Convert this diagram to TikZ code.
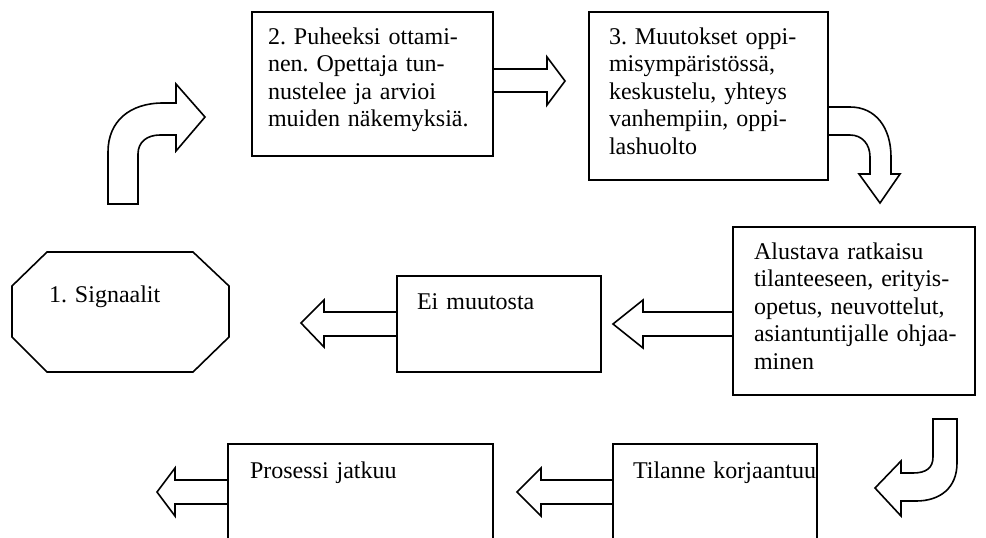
\documentclass[tikz,border=0pt]{standalone}
\usepackage{fontspec}
\setmainfont{Liberation Serif}
\frenchspacing
\begin{document}
\begin{tikzpicture}[x=0.5pt,y=-0.5pt,line width=0.8pt,
  box/.style={draw, rectangle, inner sep=0pt, outer sep=0pt, anchor=north west},
  txt/.style={anchor=base west, inner sep=0pt, outer sep=0pt, align=left, text width=150pt,
              font=\fontsize{12pt}{13.75pt}\selectfont},
  barrow/.style={draw, line join=miter, fill=white}]
\useasboundingbox (0,0) rectangle (986,537);
\clip (0,0) rectangle (986,537);

% boxes
\node[box, minimum width=241*0.5pt, minimum height=144*0.5pt] (b2) at (252,12) {};
\node[box, minimum width=239*0.5pt, minimum height=168*0.5pt] (b3) at (589,12) {};
\node[box, minimum width=204*0.5pt, minimum height=96*0.5pt] (bei) at (397,276) {};
\node[box, minimum width=242*0.5pt, minimum height=168*0.5pt] (balu) at (733,227) {};
\node[box, minimum width=204*0.5pt, minimum height=120*0.5pt] (btil) at (613,444) {};
\node[box, minimum width=265*0.5pt, minimum height=120*0.5pt] (bpro) at (228,444) {};

% octagon
\draw (47,252) -- (193,252) -- (229,286) -- (229,337) -- (193,372) -- (47,372) -- (12,337) -- (12,286) -- cycle;

% texts
\node[txt] (t1) at (49,302) {1. Signaalit};
\node[txt] (t2) at (268,44) {2. Puheeksi ottami-\\nen. Opettaja tun-\\nustelee ja arvioi\\muiden näkemyksiä.};
\node[txt] (t3) at (609,44) {3. Muutokset oppi-\\misympäristössä,\\keskustelu, yhteys\\vanhempiin, oppi-\\lashuolto};
\node[txt] (tei) at (417,309) {Ei muutosta};
\node[txt] (talu) at (754,259) {Alustava ratkaisu\\tilanteeseen, erityis-\\opetus, neuvottelut,\\asiantuntijalle ohjaa-\\minen};
\node[txt] (ttil) at (633,478) {Tilanne korjaantuu};
\node[txt] (tpro) at (250,478) {Prosessi jatkuu};

% block arrows
% 2 -> 3
\draw[barrow] (493,69) -- (547,69) -- (547,57) -- (565,81) -- (547,105) -- (547,92) -- (493,92) -- cycle;
% bent arrow top-left (1 -> 2)
\draw[barrow] (108,204) -- (108,152) .. controls (108,121) and (130,103) .. (163,103) -- (176,103)
  -- (176,84) -- (205,117) -- (176,151) -- (176,135) -- (160,135)
  .. controls (147,135) and (138,142) .. (138,154) -- (138,204) -- cycle;
% bent arrow top-right (3 -> Alustava)
\draw[barrow] (828,107) -- (850,107) .. controls (876,107) and (891,128) .. (891,157) -- (891,174)
  -- (900,174) -- (880,203) -- (859,174) -- (870,174) -- (870,157)
  .. controls (870,144) and (862,135) .. (850,135) -- (828,135) -- cycle;
% Alustava -> Ei muutosta
\draw[barrow] (733,312) -- (643,312) -- (643,300) -- (613,324) -- (643,348) -- (643,336) -- (733,336) -- cycle;
% Ei muutosta -> Signaalit
\draw[barrow] (397,312) -- (324,312) -- (324,300) -- (301,323) -- (324,347) -- (324,336) -- (397,336) -- cycle;
% bent arrow bottom-right (Alustava -> Tilanne)
\draw[barrow] (933,419) -- (957,419) -- (957,463) .. controls (957,488) and (940,501) .. (916,501) -- (901,501)
  -- (901,516) -- (875,488) -- (901,461) -- (901,473) -- (913,473)
  .. controls (926,473) and (933,468) .. (933,457) -- cycle;
% Tilanne -> Prosessi
\draw[barrow] (613,480) -- (541,480) -- (541,468) -- (517,492) -- (541,516) -- (541,504) -- (613,504) -- cycle;
% Prosessi -> out
\draw[barrow] (228,480) -- (175,480) -- (175,468) -- (157,492) -- (175,516) -- (175,504) -- (228,504) -- cycle;
\end{tikzpicture}
\end{document}
